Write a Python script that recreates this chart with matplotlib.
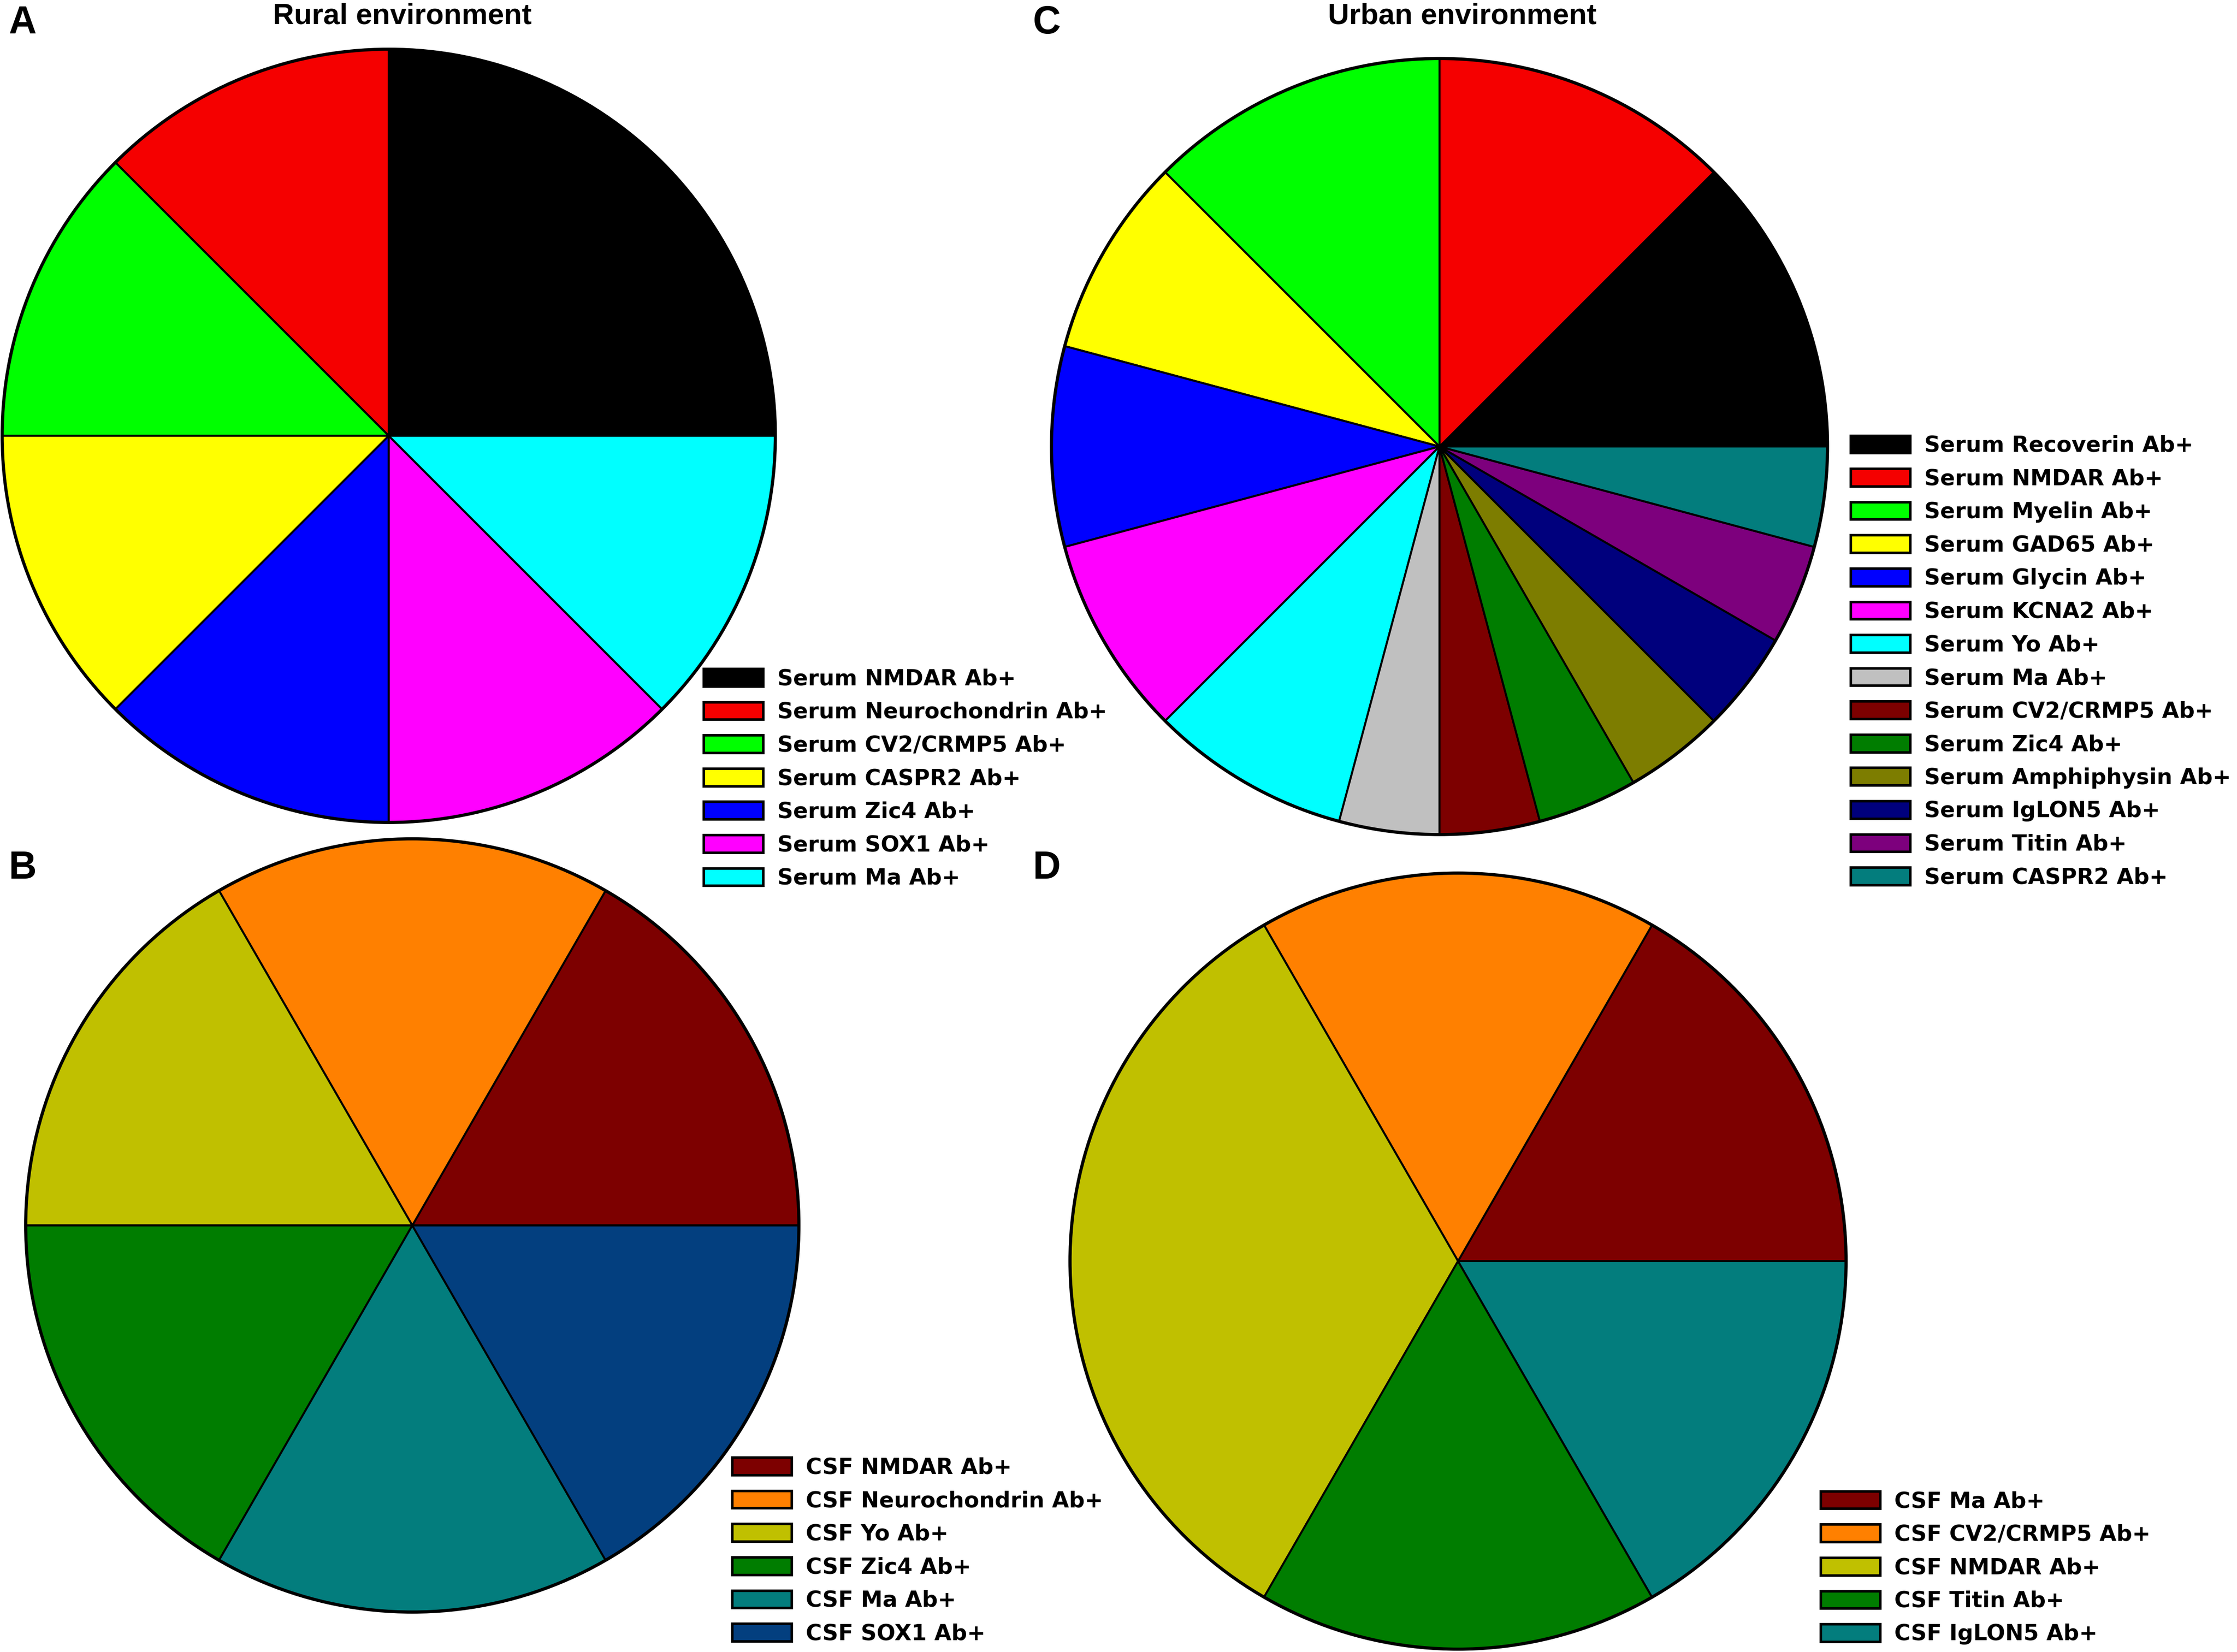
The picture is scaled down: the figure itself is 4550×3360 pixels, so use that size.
import matplotlib.pyplot as plt
from matplotlib.patches import Patch, Circle

# layout is measured in units of the reference picture seen at 1568 x 1158
W, H = 1568, 1158

rural_serum_labels = ["Serum NMDAR Ab+", "Serum Neurochondrin Ab+", "Serum CV2/CRMP5 Ab+",
                      "Serum CASPR2 Ab+", "Serum Zic4 Ab+", "Serum SOX1 Ab+", "Serum Ma Ab+"]
rural_serum_counts = [2, 1, 1, 1, 1, 1, 1]
rural_serum_colors = ["#000000", "#F50000", "#00FF00", "#FFFF00", "#0000FF", "#FF00FF", "#00FFFF"]

rural_csf_labels = ["CSF NMDAR Ab+", "CSF Neurochondrin Ab+", "CSF Yo Ab+",
                    "CSF Zic4 Ab+", "CSF Ma Ab+", "CSF SOX1 Ab+"]
rural_csf_counts = [1, 1, 1, 1, 1, 1]
rural_csf_colors = ["#7D0000", "#FF8000", "#C0C000", "#007D00", "#037D7D", "#033F7F"]

urban_serum_labels = ["Serum Recoverin Ab+", "Serum NMDAR Ab+", "Serum Myelin Ab+",
                      "Serum GAD65 Ab+", "Serum Glycin Ab+", "Serum KCNA2 Ab+", "Serum Yo Ab+",
                      "Serum Ma Ab+", "Serum CV2/CRMP5 Ab+", "Serum Zic4 Ab+",
                      "Serum Amphiphysin Ab+", "Serum IgLON5 Ab+", "Serum Titin Ab+",
                      "Serum CASPR2 Ab+"]
urban_serum_counts = [3, 3, 3, 2, 2, 2, 2, 1, 1, 1, 1, 1, 1, 1]
urban_serum_colors = ["#000000", "#F50000", "#00FF00", "#FFFF00", "#0000FF", "#FF00FF", "#00FFFF",
                      "#C0C0C0", "#7D0000", "#007D00", "#7D7D00", "#00007D", "#7D007D", "#037D7D"]

urban_csf_labels = ["CSF Ma Ab+", "CSF CV2/CRMP5 Ab+", "CSF NMDAR Ab+",
                    "CSF Titin Ab+", "CSF IgLON5 Ab+"]
urban_csf_counts = [1, 1, 2, 1, 1]
urban_csf_colors = ["#7D0000", "#FF8000", "#C0C000", "#007D00", "#037D7D"]

BOLD = "Liberation Sans"


def add_pie(fig, cx, cy, r, counts, colors, labels, leg_x, leg_y):
    ax = fig.add_axes([(cx - r) / W, 1 - (cy + r) / H, 2 * r / W, 2 * r / H])
    wedges, _ = ax.pie(counts, colors=colors, startangle=0, counterclock=True,
                       wedgeprops=dict(edgecolor="black", linewidth=1.0))
    for w in wedges:
        w.set_clip_on(False)
    ax.add_patch(Circle((0, 0), 1, fill=False, edgecolor="black", linewidth=1.6, clip_on=False))
    ax.set_xlim(-1, 1)
    ax.set_ylim(-1, 1)
    ax.set_aspect("equal")
    ax.axis("off")

    handles = [Patch(facecolor=c, edgecolor="black", linewidth=1.3) for c in colors]
    fig.legend(handles, labels, loc="center left", bbox_to_anchor=(leg_x / W, 1 - leg_y / H),
               frameon=False, borderpad=0, borderaxespad=0,
               prop=dict(family="DejaVu Sans", weight="bold", size=11.1),
               handlelength=2.72, handleheight=0.85, handletextpad=0.65, labelspacing=0.55)
    return ax


fig = plt.figure(figsize=(4550 / 290, 3360 / 290), dpi=290)

add_pie(fig, 272.5, 305.5, 271, rural_serum_counts, rural_serum_colors, rural_serum_labels, 493, 545.8)
add_pie(fig, 289, 859, 271, rural_csf_counts, rural_csf_colors, rural_csf_labels, 513, 1087)
add_pie(fig, 1009, 313, 272, urban_serum_counts, urban_serum_colors, urban_serum_labels, 1297, 463.8)
add_pie(fig, 1022, 884, 272, urban_csf_counts, urban_csf_colors, urban_csf_labels, 1276, 1099)

fig.text(282 / W, 1 - 16.7 / H, "Rural environment", ha="center", va="baseline",
         family=BOLD, weight="bold", fontsize=14.8)
fig.text(1025 / W, 1 - 16.7 / H, "Urban environment", ha="center", va="baseline",
         family=BOLD, weight="bold", fontsize=14.8)

for letter, x, y in [("A", 6, 23.5), ("B", 6, 616), ("C", 724, 23.5), ("D", 724, 616)]:
    fig.text(x / W, 1 - y / H, letter, ha="left", va="baseline",
             family=BOLD, weight="bold", fontsize=19.5)

fig.savefig("out.png", dpi=290)
